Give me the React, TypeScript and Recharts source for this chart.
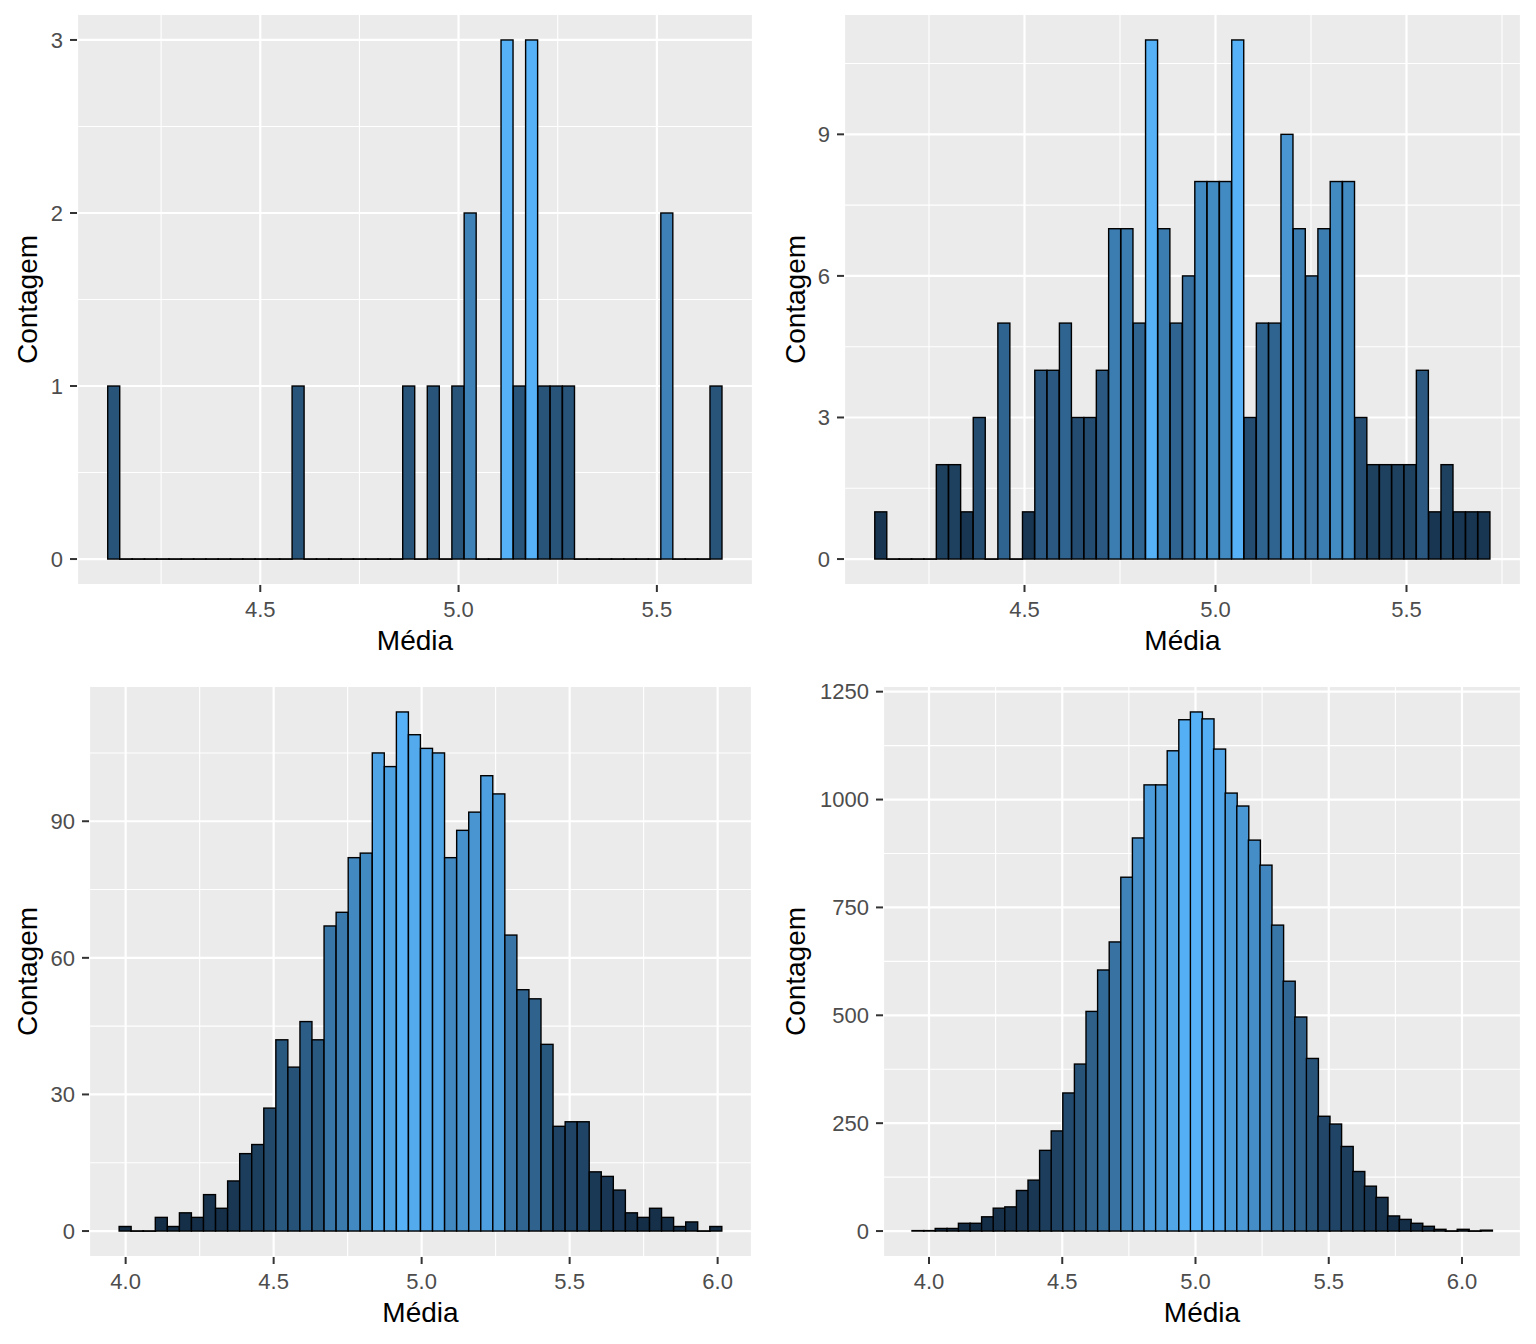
import React from 'react';
import { BarChart, Bar, Cell, XAxis, YAxis, CartesianGrid, Label } from 'recharts';

const FONT = '"Liberation Sans", Arial, sans-serif';

// counts per bin (50 bins each)
const counts20 = [1, 0, 0, 0, 0, 0, 0, 0, 0, 0, 0, 0, 0, 0, 0, 1, 0, 0, 0, 0, 0, 0, 0, 0, 1, 0, 1, 0, 1, 2, 0, 0, 3, 1, 3, 1, 1, 1, 0, 0, 0, 0, 0, 0, 0, 2, 0, 0, 0, 1];
const counts200 = [1, 0, 0, 0, 0, 2, 2, 1, 3, 0, 5, 0, 1, 4, 4, 5, 3, 3, 4, 7, 7, 5, 11, 7, 5, 6, 8, 8, 8, 11, 3, 5, 5, 9, 7, 6, 7, 8, 8, 3, 2, 2, 2, 2, 4, 1, 2, 1, 1, 1];
const counts2000 = [1, 0, 0, 3, 1, 4, 3, 8, 5, 11, 17, 19, 27, 42, 36, 46, 42, 67, 70, 82, 83, 105, 102, 114, 109, 106, 105, 82, 88, 92, 100, 96, 65, 53, 51, 41, 23, 24, 24, 13, 12, 9, 4, 3, 5, 3, 1, 2, 0, 1];
const counts20000 = [1, 1, 6, 6, 18, 18, 33, 53, 56, 94, 118, 187, 232, 320, 387, 509, 605, 670, 820, 911, 1034, 1034, 1113, 1185, 1203, 1187, 1117, 1015, 985, 906, 848, 709, 579, 496, 400, 266, 248, 196, 138, 104, 78, 35, 27, 18, 11, 4, 0, 4, 0, 2];

// left edge of first bin and bin width
const binStarts = [4.1154, 4.108, 3.978, 3.9362];
const binWidths = [0.03099, 0.032224, 0.040726, 0.043528];

// tick labels
const xTicksTop = [4.5, 5.0, 5.5];
const xTicksBottom = [4.0, 4.5, 5.0, 5.5, 6.0];
const xMinor = [3.75, 4.25, 4.75, 5.25, 5.75, 6.25];
const yTicks20 = [0, 1, 2, 3];
const yTicks200 = [0, 3, 6, 9];
const yTicks2000 = [0, 30, 60, 90];
const yTicks20000 = [0, 250, 500, 750, 1000, 1250];

// ggplot2 default gradient, interpolated in CIE Lab
const LOW = '#132B43';
const HIGH = '#56B1F7';
const toLin = (c: number) => { c /= 255; return c <= 0.04045 ? c / 12.92 : Math.pow((c + 0.055) / 1.055, 2.4); };
const fromLin = (c: number) => {
  const v = c <= 0.0031308 ? 12.92 * c : 1.055 * Math.pow(c, 1 / 2.4) - 0.055;
  return Math.max(0, Math.min(255, Math.round(v * 255)));
};
const fLab = (t: number) => (t > 216 / 24389 ? Math.cbrt(t) : (24389 / 27 * t + 16) / 116);
const fInv = (f: number) => (f * f * f > 216 / 24389 ? f * f * f : (116 * f - 16) / (24389 / 27));
const hexToLab = (h: string) => {
  const r = toLin(parseInt(h.slice(1, 3), 16));
  const g = toLin(parseInt(h.slice(3, 5), 16));
  const b = toLin(parseInt(h.slice(5, 7), 16));
  const X = (0.4124564 * r + 0.3575761 * g + 0.1804375 * b) / 0.95047;
  const Y = 0.2126729 * r + 0.7151522 * g + 0.072175 * b;
  const Z = (0.0193339 * r + 0.119192 * g + 0.9503041 * b) / 1.08883;
  const fx = fLab(X), fy = fLab(Y), fz = fLab(Z);
  return [116 * fy - 16, 500 * (fx - fy), 200 * (fy - fz)];
};
const labToHex = ([L, a, bb]: number[]) => {
  const fy = (L + 16) / 116;
  const X = fInv(fy + a / 500) * 0.95047;
  const Y = fInv(fy);
  const Z = fInv(fy - bb / 200) * 1.08883;
  const r = 3.2404542 * X - 1.5371385 * Y - 0.4985314 * Z;
  const g = -0.969266 * X + 1.8760108 * Y + 0.041556 * Z;
  const b = 0.0556434 * X - 0.2040259 * Y + 1.0572252 * Z;
  return '#' + [r, g, b].map((c) => fromLin(c).toString(16).padStart(2, '0')).join('');
};
const labLow = hexToLab(LOW);
const labHigh = hexToLab(HIGH);
const fillFor = (v: number, max: number) => {
  const t = max > 0 ? v / max : 0;
  return labToHex(labLow.map((c, i) => c + (labHigh[i] - c) * t));
};

// empty bins still show their outline as a flat line on the baseline
const histShape = (props: any) => {
  const { x, y, width, height, fill } = props;
  if (!height) {
    return <line x1={x - 1} x2={x + width + 1} y1={y} y2={y} stroke="#000000" strokeWidth={1.8} />;
  }
  return <rect x={x} y={y} width={width} height={height} fill={fill} stroke="#000000" strokeWidth={1.4} />;
};

const xTitle = (props: any) => {
  const vb = props.viewBox;
  return (
    <text x={vb.x + vb.width / 2} y={vb.y + 65} textAnchor="middle" fontSize={28} fontFamily={FONT} fill="#000000">
      Média
    </text>
  );
};

const yTitle = (props: any) => {
  const vb = props.viewBox;
  const cx = 37;
  const cy = vb.y + vb.height / 2;
  return (
    <text x={cx} y={cy} transform={`rotate(-90 ${cx} ${cy})`} textAnchor="middle" fontSize={28} fontFamily={FONT} fill="#000000">
      Contagem
    </text>
  );
};

type PanelProps = {
  counts: number[];
  start: number;
  bw: number;
  xTicks: number[];
  yTicks: number[];
  left: number;
  top: number;
  yAxisWidth: number;
  plotWidth: number;
};

const Histogram = ({ counts, start, bw, xTicks, yTicks, left, top, yAxisWidth, plotWidth }: PanelProps) => {
  const data = counts.map((c, i) => ({ x: start + (i + 0.5) * bw, count: c }));
  const max = Math.max(...counts);
  const span = counts.length * bw;
  const xDomain = [start - 0.05 * span, start + span + 0.05 * span];
  const yDomain = [-0.05 * max, 1.05 * max];
  const step = yTicks[1] - yTicks[0];
  const yMinor = yTicks.map((t) => t + step / 2);
  const xMinorIn = xMinor.filter((v) => v > xDomain[0] && v < xDomain[1]);
  const yMinorIn = yMinor.filter((v) => v > yDomain[0] && v < yDomain[1]);

  return (
    <div style={{ position: 'absolute', left, top }}>
      <BarChart
        width={yAxisWidth + plotWidth}
        height={665}
        data={data}
        margin={{ top: 14, right: 0, bottom: 0, left: 0 }}
        barCategoryGap={0}
        barGap={0}
      >
        <CartesianGrid fill="#EBEBEB" stroke="#FFFFFF" strokeWidth={1.1} xAxisId="minor" yAxisId="minor" />
        <CartesianGrid stroke="#FFFFFF" strokeWidth={2.2} />
        <XAxis
          xAxisId="minor"
          type="number"
          dataKey="x"
          domain={xDomain}
          allowDataOverflow
          ticks={xMinorIn}
          interval={0}
          hide
        />
        <YAxis
          yAxisId="minor"
          type="number"
          domain={yDomain}
          allowDataOverflow
          ticks={yMinorIn}
          interval={0}
          hide
        />
        <XAxis
          type="number"
          dataKey="x"
          domain={xDomain}
          allowDataOverflow
          ticks={xTicks}
          interval={0}
          tickFormatter={(v: number) => v.toFixed(1)}
          height={80}
          axisLine={false}
          tickSize={7}
          tickMargin={9}
          tickLine={{ stroke: '#333333', strokeWidth: 2 }}
          tick={{ fill: '#4D4D4D', fontSize: 22, fontFamily: FONT }}
        >
          <Label content={xTitle} />
        </XAxis>
        <YAxis
          type="number"
          domain={yDomain}
          allowDataOverflow
          ticks={yTicks}
          interval={0}
          width={yAxisWidth}
          axisLine={false}
          tickSize={7}
          tickMargin={7}
          tickLine={{ stroke: '#333333', strokeWidth: 2 }}
          tick={{ fill: '#4D4D4D', fontSize: 22, fontFamily: FONT }}
        >
          <Label content={yTitle} />
        </YAxis>
        <Bar dataKey="count" isAnimationActive={false} shape={histShape}>
          {counts.map((c, i) => (
            <Cell key={`cell-${i}`} fill={fillFor(c, max)} />
          ))}
        </Bar>
      </BarChart>
    </div>
  );
};

export default function App() {
  return (
    <div style={{ position: 'absolute', left: 0, top: 0, width: 1536, height: 1344, background: '#FFFFFF' }}>
      <Histogram counts={counts20} start={binStarts[0]} bw={binWidths[0]} xTicks={xTicksTop} yTicks={yTicks20} left={0} top={0} yAxisWidth={77} plotWidth={676} />
      <Histogram counts={counts200} start={binStarts[1]} bw={binWidths[1]} xTicks={xTicksTop} yTicks={yTicks200} left={768} top={0} yAxisWidth={76} plotWidth={677} />
      <Histogram counts={counts2000} start={binStarts[2]} bw={binWidths[2]} xTicks={xTicksBottom} yTicks={yTicks2000} left={0} top={672} yAxisWidth={89} plotWidth={663} />
      <Histogram counts={counts20000} start={binStarts[3]} bw={binWidths[3]} xTicks={xTicksBottom} yTicks={yTicks20000} left={768} top={672} yAxisWidth={115} plotWidth={638} />
    </div>
  );
}
